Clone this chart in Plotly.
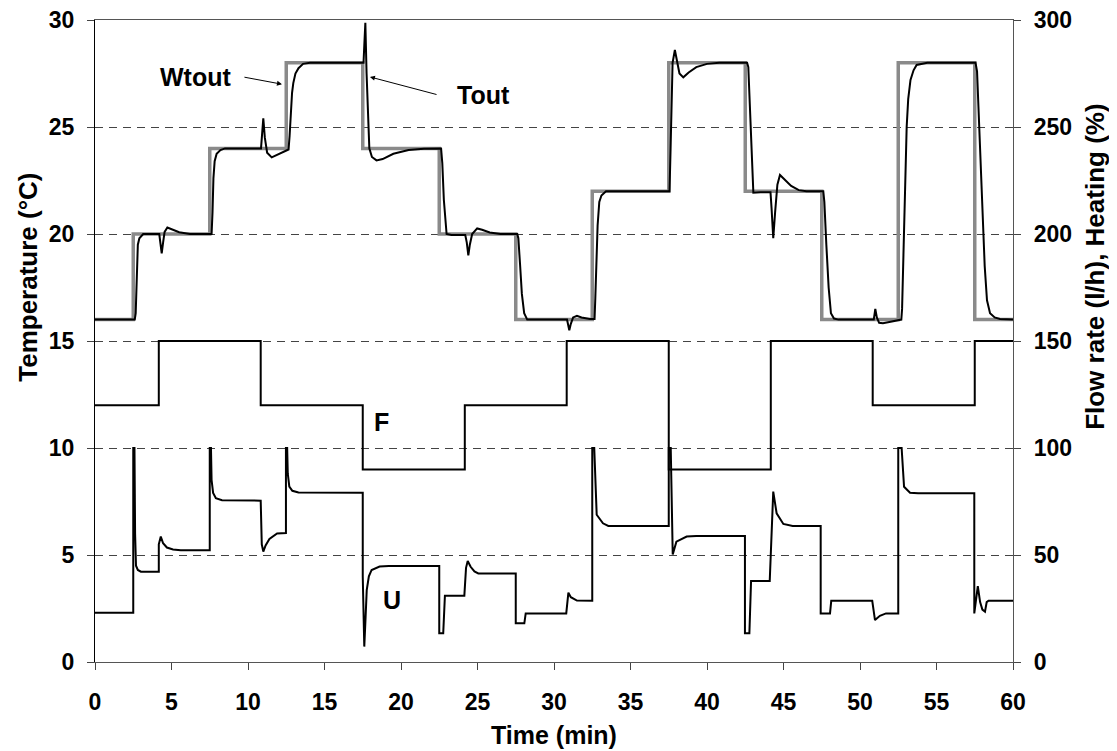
import plotly.graph_objects as go

# ---------------- data ----------------
# setpoint Wtout (°C), step changes
wtout_t = [0, 2.5, 7.5, 12.5, 17.5, 22.5, 27.5, 32.5, 37.5, 42.5, 47.5, 52.5, 57.5, 60]
wtout_v = [16, 20, 24, 28, 24, 20, 16, 22, 28, 22, 16, 28, 16, 16]

# flow rate F (l/h), step changes
f_t = [0, 4.17, 10.83, 17.5, 24.17, 30.83, 37.5, 44.17, 50.83, 57.5, 60]
f_v = [120, 150, 120, 90, 120, 150, 90, 150, 120, 150, 150]

# outlet temperature Tout (°C)
tout_t = [0, 2.6, 2.66, 2.7, 2.74, 2.8, 2.9, 3.15, 4.2, 4.28, 4.36, 4.45, 4.55, 4.73, 5.0, 5.5, 6.2,
          7.62, 7.68, 7.74, 7.82, 7.95, 8.2, 8.5, 10.85, 10.92, 11.0, 11.1, 11.25, 11.55, 11.9, 12.3, 12.65,
          12.72, 12.8, 12.88, 12.96, 13.1, 13.3, 13.6, 14.05, 17.55, 17.6, 17.67, 17.75, 17.85, 17.93, 18.1,
          18.4, 18.8, 19.5, 20.5, 21.5, 22.62, 22.7, 22.8, 22.9, 22.98, 23.3, 24.2, 24.3, 24.4, 24.5, 24.65,
          24.98, 25.3, 25.8, 26.5, 27.6, 27.67, 27.78, 27.9, 28.05, 28.25, 30.85, 30.93, 31.0, 31.1, 31.25,
          31.5, 31.8, 32.35, 32.65, 32.7, 32.76, 32.85, 32.96, 33.1, 33.4, 37.55, 37.62, 37.7, 37.75, 37.9,
          38.05, 38.2, 38.45, 38.8, 39.3, 40.0, 40.8, 42.62, 42.7, 42.85, 43.03, 43.5, 44.15, 44.22, 44.33,
          44.45, 44.6, 44.77, 45.0, 45.5, 46.0, 46.5, 47.6, 47.67, 47.8, 47.95, 48.1, 48.3, 48.6, 50.9, 51.0,
          51.1, 51.25, 51.5, 52.0, 52.7, 52.75, 52.85, 52.95, 53.05, 53.15, 53.3, 53.5, 53.7, 54.4, 57.55,
          57.65, 57.72, 57.85, 58.0, 58.15, 58.3, 58.5, 58.8, 59.15, 60]
tout_v = [16, 16, 16.3, 17.5, 18.7, 19.5, 19.8, 20.0, 20.0, 19.6, 19.1, 19.6, 20.1, 20.3, 20.22, 20.08, 20.0,
          20.0, 21.0, 22.6, 23.4, 23.75, 23.92, 24.0, 24.0, 24.6, 25.4, 24.5, 23.8, 23.58, 23.7, 23.85, 23.95,
          24.6, 25.8, 26.6, 27.05, 27.5, 27.75, 27.95, 28.0, 28.0, 28.8, 29.87, 27.5, 25.0, 24.0, 23.6,
          23.44, 23.5, 23.75, 23.92, 23.98, 24.0, 23.3, 21.6, 20.5, 20.0, 19.95, 19.95, 19.6, 19.0, 19.5, 20.0,
          20.26, 20.2, 20.07, 20.0, 20.0, 19.8, 18.6, 17.2, 16.3, 16.0, 16.0, 15.8, 15.5, 15.8, 16.1,
          16.18, 16.1, 16.03, 16.03, 17.0, 18.8, 20.4, 21.5, 21.8, 22.0, 22.0, 24.0, 26.5, 28.0, 28.6,
          28.0, 27.5, 27.32, 27.55, 27.8, 27.95, 28.0, 28.0, 27.8, 25.0, 21.93, 21.95, 21.95, 21.2, 19.8,
          21.0, 22.3, 22.76, 22.6, 22.25, 22.05, 22.0, 22.0, 21.5, 19.5, 17.5, 16.3, 16.05, 16.0, 16.0, 16.5,
          16.1, 15.85, 15.83, 15.9, 16.0, 16.5, 19.5, 23.0, 25.0, 26.3, 27.2, 27.65, 27.9, 28.0, 28.0,
          27.6, 26.3, 23.5, 20.5, 18.5, 16.9, 16.3, 16.1, 16.03, 16.0]

# heating U (%)
u_t = [0, 2.5, 2.5, 2.58, 2.62, 2.68, 2.8, 3.0, 4.17, 4.17, 4.3, 4.45, 4.7, 5.1, 5.6, 7.5, 7.5, 7.58, 7.62,
       7.72, 7.9, 8.3, 10.83, 10.9, 11.0, 11.15, 11.4, 11.9, 12.48, 12.48, 12.56, 12.6, 12.7, 12.9, 13.3,
       17.5, 17.5, 17.6, 17.68, 17.76, 17.9, 18.08, 18.6, 19.2, 22.5, 22.5, 22.76, 22.87, 24.14, 24.25,
       24.36, 24.55, 24.8, 25.05, 27.5, 27.5, 28.06, 28.15, 30.8, 30.94, 31.1, 31.5, 32.5, 32.5, 32.63,
       32.79, 33.2, 33.55, 37.5, 37.5, 37.63, 37.76, 38.0, 38.67, 39.3, 42.48, 42.48, 42.77, 42.88, 44.1,
       44.33, 44.55, 44.99, 45.6, 47.43, 47.43, 48.04, 48.12, 50.8, 50.98, 51.3, 51.7, 52.5, 52.5, 52.72,
       52.88, 53.27, 53.8, 57.47, 57.47, 57.6, 57.7, 57.85, 58.0, 58.17, 58.28, 58.4, 60]
u_v = [23, 23, 100, 100, 60, 45, 43, 42.2, 42.2, 55, 58.6, 55.5, 53.5, 52.6, 52.2, 52.2, 100, 100, 85,
       79, 76.5, 75.6, 75.4, 55, 51.6, 54.5, 57.5, 60.1, 60.3, 100, 100, 88, 82, 80, 79.2,
       79.1, 40, 7.2, 20, 33.6, 40, 43, 44.6, 44.9, 44.9, 13.4, 13.4, 31, 31, 44,
       47.2, 44.5, 42.3, 41.4, 41.4, 18.1, 18.1, 22.7, 22.7, 32.4, 30.3, 28.7, 28.6, 100, 100,
       68.8, 64.8, 63.6, 63.6, 100, 100, 50.3, 56.2, 58.6, 58.9, 58.9, 13.4, 13.4, 37.9, 37.9,
       79.6, 69.5, 64.5, 63.6, 63.6, 22.7, 22.7, 28.6, 28.6, 19.6, 21.6, 22.7, 22.7, 100, 100,
       81.9, 79.1, 78.8, 78.8, 22.7, 30, 35.5, 28, 24.5, 23.5, 28, 28.6, 28.6]

x_ticks = [0, 5, 10, 15, 20, 25, 30, 35, 40, 45, 50, 55, 60]
y_ticks = [0, 5, 10, 15, 20, 25, 30]
y2_ticks = [0, 50, 100, 150, 200, 250, 300]

FONT = "Liberation Sans, Arial, sans-serif"

fig = go.Figure()
fig.add_trace(go.Scatter(x=wtout_t, y=wtout_v, mode="lines", line=dict(color="#8a8a8a", width=3.5, shape="hv"),
                         name="Wtout", showlegend=False))
fig.add_trace(go.Scatter(x=tout_t, y=tout_v, mode="lines", line=dict(color="black", width=2),
                         name="Tout", showlegend=False))
fig.add_trace(go.Scatter(x=f_t, y=f_v, mode="lines", line=dict(color="black", width=2, shape="hv"),
                         name="F", yaxis="y2", showlegend=False))
fig.add_trace(go.Scatter(x=u_t, y=u_v, mode="lines", line=dict(color="black", width=2),
                         name="U", yaxis="y2", showlegend=False))

tickfont = dict(family=FONT, size=23, color="black", weight="bold")
titlefont = dict(family=FONT, size=25, color="black", weight="bold")

# the page body adds an 8px offset; the figure fills the rest of the window
fig.update_layout(
    width=1109, height=743,
    margin=dict(l=87, r=104, t=12, b=89),
    paper_bgcolor="white", plot_bgcolor="white",
    xaxis=dict(range=[0, 60], tickvals=x_ticks, ticks="outside", ticklen=7, tickcolor="#444",
               showgrid=False, zeroline=False, showline=True, linecolor="#555", linewidth=1.3,
               mirror=True, tickfont=tickfont, automargin=False, ticklabelstandoff=12,
               ticklabeloverflow="allow"),
    yaxis=dict(range=[0, 30], tickvals=y_ticks, ticks="outside", ticklen=7, tickcolor="#444",
               showgrid=True, gridcolor="#444", gridwidth=1, griddash="8px,6px",
               zeroline=False, showline=True, linecolor="black", linewidth=1.3, tickfont=tickfont,
               automargin=False, ticklabelstandoff=8, ticklabeloverflow="allow"),
    yaxis2=dict(range=[0, 300], tickvals=y2_ticks, ticks="outside", ticklen=7, tickcolor="#444",
                overlaying="y", side="right", showgrid=False, zeroline=False, showline=True,
                linecolor="#555", linewidth=1.3, tickfont=tickfont, automargin=False,
                ticklabelstandoff=8, ticklabeloverflow="allow"),
)

# axis titles
fig.add_annotation(x=0.5, y=-0.114, xref="paper", yref="paper", text="Time (min)", showarrow=False,
                   font=titlefont, xanchor="center", yanchor="middle")
fig.add_annotation(x=-0.073, y=0.6, xref="paper", yref="paper", text="Temperature (°C)", showarrow=False,
                   font=dict(family=FONT, size=26, color="black", weight="bold"), textangle=-90,
                   xanchor="center", yanchor="middle")
fig.add_annotation(x=1.089, y=0.615, xref="paper", yref="paper", text="Flow rate (l/h), Heating (%)",
                   showarrow=False, font=dict(family=FONT, size=26, color="black", weight="bold"),
                   textangle=-90, xanchor="center", yanchor="middle")

annfont = dict(family=FONT, size=25, color="black", weight="bold")
fig.add_annotation(x=6.54, y=27.34, xref="x", yref="y", text="Wtout", showarrow=False, font=annfont)
fig.add_annotation(x=12.22, y=27.0, xref="x", yref="y", ax=9.67, ay=27.34, axref="x", ayref="y",
                   text="", showarrow=True, arrowhead=2, arrowsize=1, arrowwidth=1, arrowcolor="black")
fig.add_annotation(x=25.36, y=26.5, xref="x", yref="y", text="Tout", showarrow=False, font=annfont)
fig.add_annotation(x=17.97, y=27.34, xref="x", yref="y", ax=22.42, ay=26.5, axref="x", ayref="y",
                   text="", showarrow=True, arrowhead=2, arrowsize=1, arrowwidth=1, arrowcolor="black")
fig.add_annotation(x=18.74, y=11.23, xref="x", yref="y", text="F", showarrow=False, font=annfont)
fig.add_annotation(x=19.39, y=2.9, xref="x", yref="y", text="U", showarrow=False, font=annfont)

fig.write_html("out.html")
